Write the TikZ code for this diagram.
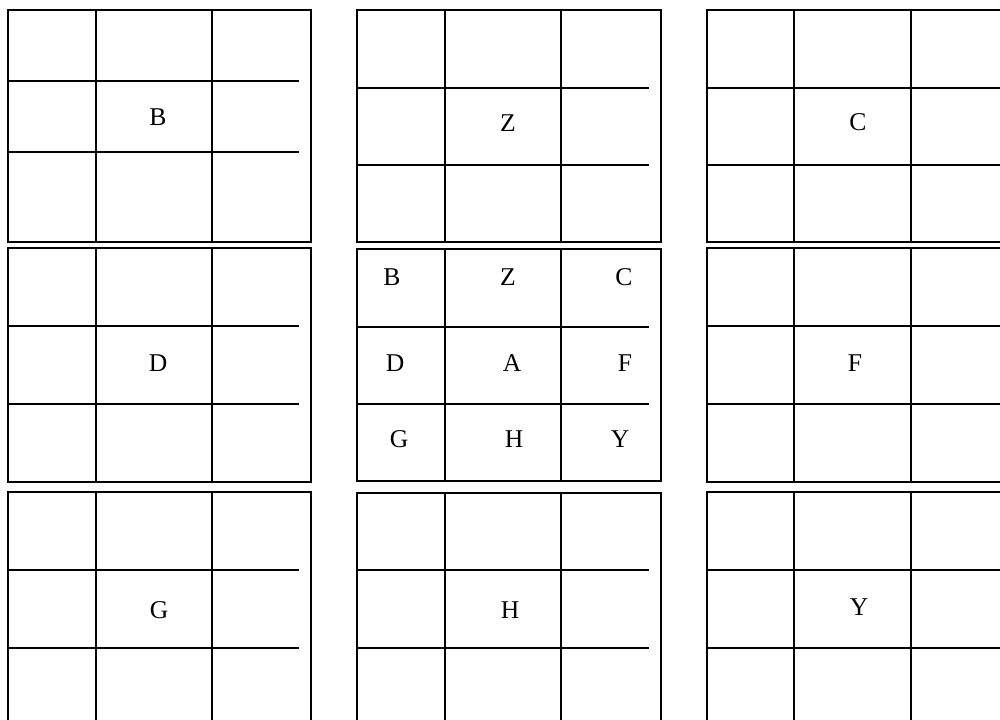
\documentclass[tikz,border=0pt]{standalone}
\usepackage{fontspec}
\setmainfont{Liberation Serif}
\tikzset{
  grid line/.style={line width=1.1pt,draw=black},
  cell label/.style={font=\fontsize{12.8}{15}\selectfont,inner sep=0pt},
}
\begin{document}
\begin{tikzpicture}[x=0.5pt,y=-0.5pt]
  \useasboundingbox (0,0) rectangle (1000,719);
  \clip (0,0) rectangle (1000,719);
  % nine blocks: left / col1 / col2 / right / top / row1 / row2 / bottom
  \foreach \xl/\xa/\xb/\xr/\yt/\ya/\yb/\yd in {
      8/96/212/311/10/81/152/242, 357/445/561/661/10/88/165/242, 707/794/911/1012/10/88/165/242,
      8/96/212/311/248/326/404/482, 357/445/561/661/249/327/404/481, 707/794/911/1012/248/326/404/482,
      8/96/212/311/492/570/648/740, 357/445/561/661/493/570/648/740, 707/794/911/1012/492/570/648/740}{
    \draw[grid line] (\xl,\yt) rectangle (\xr,\yd);
    \draw[grid line] (\xa,\yt) -- (\xa,\yd) (\xb,\yt) -- (\xb,\yd);
    \draw[grid line] (\xl,\ya) -- (\xr-12,\ya) (\xl,\yb) -- (\xr-12,\yb);
  }
  % outer blocks
  \node[cell label] (bB) at (158,117) {B};
  \node[cell label] (bZ) at (508,123) {Z};
  \node[cell label] (bC) at (858,122) {C};
  \node[cell label] (bD) at (158,363) {D};
  \node[cell label] (bF) at (855,363) {F};
  \node[cell label] (bG) at (159,610) {G};
  \node[cell label] (bH) at (510,610) {H};
  \node[cell label] (bY) at (859,607) {Y};
  % centre block
  \node[cell label] (cB) at (392,277) {B};
  \node[cell label] (cZ) at (508,277) {Z};
  \node[cell label] (cC) at (624,277) {C};
  \node[cell label] (cD) at (395,363) {D};
  \node[cell label] (cA) at (512,363) {A};
  \node[cell label] (cF) at (625,363) {F};
  \node[cell label] (cG) at (399,439) {G};
  \node[cell label] (cH) at (514,439) {H};
  \node[cell label] (cY) at (620,439) {Y};
\end{tikzpicture}
\end{document}
